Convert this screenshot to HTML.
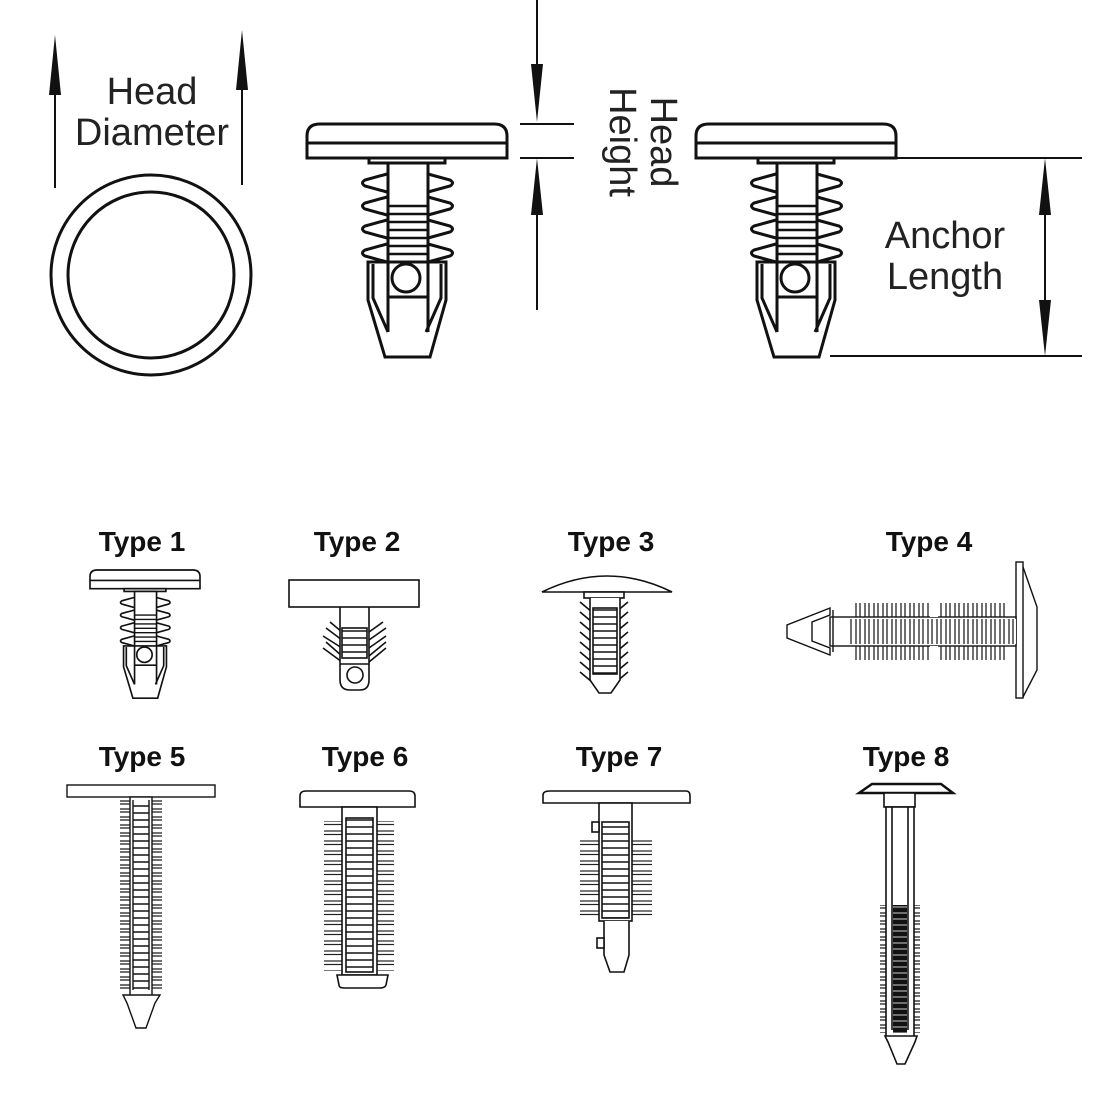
<!DOCTYPE html>
<html><head><meta charset="utf-8"><style>
html,body{margin:0;padding:0;background:#fff;}
svg{display:block;}
text{font-family:"Liberation Sans",sans-serif;}
</style></head><body>
<svg width="1100" height="1100" viewBox="0 0 1100 1100" xmlns="http://www.w3.org/2000/svg">
<defs>
<pattern id="hl" width="8" height="7" patternUnits="userSpaceOnUse"><rect width="8" height="7" fill="#fff"/><line x1="0" y1="1" x2="8" y2="1" stroke="#222" stroke-width="1.6"/></pattern>
<pattern id="hl5" width="8" height="8" patternUnits="userSpaceOnUse"><rect width="8" height="8" fill="#fff"/><line x1="0" y1="1" x2="8" y2="1" stroke="#222" stroke-width="1.3"/><line x1="0" y1="4" x2="8" y2="4" stroke="#222" stroke-width="1.3"/></pattern>
<pattern id="fin6" width="8" height="10" patternUnits="userSpaceOnUse"><rect width="8" height="10" fill="#fff"/><line x1="0" y1="1" x2="8" y2="1" stroke="#222" stroke-width="1.2"/><line x1="0" y1="4.5" x2="8" y2="4.5" stroke="#222" stroke-width="1.2"/></pattern>
<pattern id="vl" width="9" height="8" patternUnits="userSpaceOnUse"><rect width="9" height="8" fill="#fff"/><line x1="1" y1="0" x2="1" y2="8" stroke="#222" stroke-width="1.3"/><line x1="5" y1="0" x2="5" y2="8" stroke="#222" stroke-width="1.3"/></pattern>
<pattern id="dk" width="8" height="6" patternUnits="userSpaceOnUse"><rect width="8" height="6" fill="#111"/><line x1="0" y1="1" x2="8" y2="1" stroke="#fff" stroke-width="0.8"/></pattern>
<g id="clip" fill="#fff" stroke="#111" stroke-width="3">
 <path d="M307 158 V136 Q307 124 320 124 H494 Q507 124 507 136 V158 Z"/>
 <line x1="308" y1="143" x2="506" y2="143"/>
 <rect x="369" y="158" width="76" height="5"/>
 <path d="M387 174 L365 180 Q360 183 365 186 L387 192"/>
 <path d="M387 197 L365 203 Q360 206 365 209 L387 215"/>
 <path d="M387 220 L365 226 Q360 229 365 232 L387 238"/>
 <path d="M387 244 L365 250 Q360 253 365 256 L387 262"/>
 <path d="M428 174 L450 180 Q455 183 450 186 L428 192"/>
 <path d="M428 197 L450 203 Q455 206 450 209 L428 215"/>
 <path d="M428 220 L450 226 Q455 229 450 232 L428 238"/>
 <path d="M428 244 L450 250 Q455 253 450 256 L428 262"/>
 <rect x="388" y="163" width="40" height="100"/>
 <g stroke-width="2.5"><line x1="388" y1="206" x2="428" y2="206"/><line x1="388" y1="214" x2="428" y2="214"/><line x1="388" y1="222" x2="428" y2="222"/><line x1="388" y1="230" x2="428" y2="230"/><line x1="388" y1="238" x2="428" y2="238"/><line x1="388" y1="246" x2="428" y2="246"/><line x1="388" y1="254" x2="428" y2="254"/></g>
 <path d="M368 262 H446 V300 L430 357 H385 L368 300 Z"/>
 <path d="M373 264 V298 L388 332 M441 264 V298 L426 332"/>
 <line x1="388" y1="263" x2="388" y2="332"/><line x1="428" y1="263" x2="428" y2="332"/>
 <line x1="388" y1="297" x2="428" y2="297"/>
 <circle cx="406" cy="278" r="14"/>
</g>
</defs>

<circle cx="151" cy="275" r="100" fill="none" stroke="#111" stroke-width="3"/>
<circle cx="151" cy="275" r="83" fill="none" stroke="#111" stroke-width="3"/>
<line x1="55" y1="60" x2="55" y2="188" stroke="#111" stroke-width="2"/>
<polygon points="55,35 49,95 61,95" fill="#111"/>
<line x1="242" y1="55" x2="242" y2="185" stroke="#111" stroke-width="2"/>
<polygon points="242,30 236,90 248,90" fill="#111"/>
<text x="152" y="104" font-size="38" text-anchor="middle" fill="#222">Head</text>
<text x="152" y="145" font-size="38" text-anchor="middle" fill="#222">Diameter</text>

<use href="#clip"/>
<use href="#clip" transform="translate(389,0)"/>

<line x1="537" y1="0" x2="537" y2="100" stroke="#111" stroke-width="2"/>
<polygon points="537,122 531,64 543,64" fill="#111"/>
<line x1="520" y1="124" x2="574" y2="124" stroke="#111" stroke-width="2"/>
<line x1="520" y1="158" x2="574" y2="158" stroke="#111" stroke-width="2"/>
<line x1="537" y1="180" x2="537" y2="310" stroke="#111" stroke-width="2"/>
<polygon points="537,158 531,215 543,215" fill="#111"/>
<text transform="translate(651,142) rotate(90)" font-size="38" text-anchor="middle" fill="#222">Head</text>
<text transform="translate(610,142) rotate(90)" font-size="38" text-anchor="middle" fill="#222">Height</text>

<line x1="830" y1="158" x2="1082" y2="158" stroke="#111" stroke-width="2"/>
<line x1="830" y1="356" x2="1082" y2="356" stroke="#111" stroke-width="2"/>
<line x1="1045" y1="180" x2="1045" y2="335" stroke="#111" stroke-width="2"/>
<polygon points="1045,158 1039,215 1051,215" fill="#111"/>
<polygon points="1045,356 1039,300 1051,300" fill="#111"/>
<text x="945" y="248" font-size="38" text-anchor="middle" fill="#222">Anchor</text>
<text x="945" y="289" font-size="38" text-anchor="middle" fill="#222">Length</text>

<g font-size="28" font-weight="bold" text-anchor="middle" fill="#111">
<text x="142" y="551">Type 1</text>
<text x="357" y="551">Type 2</text>
<text x="611" y="551">Type 3</text>
<text x="929" y="551">Type 4</text>
<text x="142" y="766">Type 5</text>
<text x="365" y="766">Type 6</text>
<text x="619" y="766">Type 7</text>
<text x="906" y="766">Type 8</text>
</g>

<use href="#clip" transform="translate(-78.85,501.8) scale(0.55)"/>

<g fill="#fff" stroke="#111" stroke-width="1.6">
<path d="M330 622 L342 632 M326 628 L342 640 M323 636 L342 648 M326 642 L342 656 M323 648 L342 662" />
<path d="M383 622 L369 632 M386 628 L369 640 M386 636 L369 648 M386 642 L369 656 M386 648 L369 662" />
<path d="M340 607 V680 Q340 690 350 690 H360 Q369 690 369 680 V607"/>
<rect x="342" y="628" width="25" height="30" fill="url(#hl)"/>
<line x1="340" y1="664" x2="369" y2="664"/>
<circle cx="355" cy="675" r="8"/>
<rect x="289" y="580" width="130" height="27"/>
</g>

<g fill="#fff" stroke="#111" stroke-width="1.6">
<path d="M542 592 Q607 560 672 592 Z"/>
<rect x="584" y="592" width="40" height="6"/>
<path d="M580 602 L592 612 M580 612 L592 622 M580 622 L592 632 M580 632 L592 642 M580 642 L592 652 M580 652 L592 662 M580 662 L592 672 M580 672 L592 682"/>
<path d="M628 602 L616 612 M628 612 L616 622 M628 622 L616 632 M628 632 L616 642 M628 642 L616 652 M628 652 L616 662 M628 662 L616 672 M628 672 L616 682"/>
<path d="M590 598 V680 L599 693 H611 L620 680 V598"/>
<rect x="593" y="608" width="24" height="66" fill="url(#hl)"/>
</g>

<g fill="#fff" stroke="#111" stroke-width="1.4">
<path d="M1023 567 L1037 607 V670 L1023 697"/>
<rect x="1016" y="562" width="7" height="136"/>
<rect x="853" y="603" width="153" height="57" fill="url(#vl)" stroke="none"/>
<rect x="830" y="617" width="186" height="29"/>
<rect x="848" y="619" width="168" height="25" fill="url(#vl)" stroke="none"/>
<rect x="930" y="603" width="8" height="14" fill="#fff" stroke="none"/>
<rect x="930" y="646" width="8" height="14" fill="#fff" stroke="none"/>
<path d="M830 608 L787 625 V638 L830 655 V648 L812 641 L812 622 L830 615 Z"/>
<line x1="833" y1="610" x2="833" y2="652"/>
</g>

<g fill="#fff" stroke="#111" stroke-width="1.4">
<rect x="67" y="785" width="148" height="12"/>
<rect x="120" y="800" width="42" height="190" fill="url(#hl5)" stroke="none"/>
<rect x="130" y="797" width="22" height="200"/>
<rect x="133" y="800" width="16" height="190" fill="url(#hl)" stroke="none"/>
<line x1="133" y1="800" x2="133" y2="990"/><line x1="149" y1="800" x2="149" y2="990"/>
<path d="M123 995 H160 L155 1003 L146 1028 H136 L127 1003 Z"/>
</g>

<g fill="#fff" stroke="#111" stroke-width="1.6">
<path d="M300 807 V796 Q300 791 306 791 H409 Q415 791 415 796 V807 Z"/>
<rect x="324" y="821" width="70" height="150" fill="url(#fin6)" stroke="none"/>
<rect x="342" y="807" width="35" height="168"/>
<rect x="346" y="818" width="27" height="154" fill="url(#hl)"/>
<path d="M337 975 H388 L386 985 Q385 988 380 988 H344 Q339 988 339 985 Z"/>
</g>

<g fill="#fff" stroke="#111" stroke-width="1.6">
<path d="M543 803 V795 Q543 791 550 791 H686 Q690 791 690 796 V803 Z"/>
<rect x="580" y="838" width="72" height="80" fill="url(#fin6)" stroke="none"/>
<rect x="599" y="803" width="33" height="118"/>
<rect x="602" y="822" width="27" height="96" fill="url(#hl)"/>
<rect x="592" y="822" width="7" height="10"/>
<path d="M604 921 V955 L610 972 H624 L629 955 V921"/>
<rect x="597" y="938" width="7" height="10"/>
</g>

<g fill="#fff" stroke="#111" stroke-width="1.6">
<path d="M859 793 L872 784 H941 L953 793 Z" stroke-width="2.5"/>
<rect x="884" y="793" width="31" height="14"/>
<rect x="880" y="905" width="40" height="128" fill="url(#hl5)" stroke="none"/>
<rect x="886" y="807" width="28" height="230"/>
<line x1="892" y1="807" x2="892" y2="1030"/><line x1="908" y1="807" x2="908" y2="1030"/>
<rect x="893" y="905" width="14" height="128" fill="url(#dk)" stroke="none"/>
<path d="M885 1036 H917 L915 1042 L905 1064 H897 L888 1042 Z"/>
</g>
</svg>
</body></html>
